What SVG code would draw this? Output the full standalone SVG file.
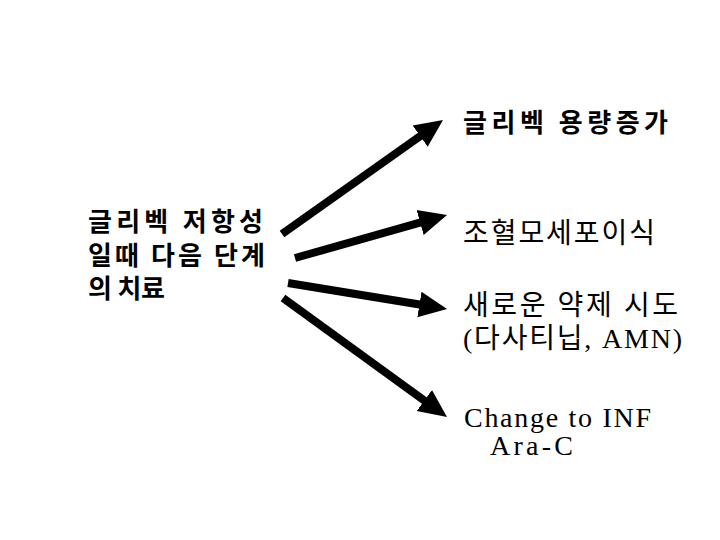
<svg xmlns="http://www.w3.org/2000/svg" width="720" height="540" viewBox="0 0 720 540">
<style>
.b{font-family:"Noto Sans CJK KR","Noto Sans",sans-serif;font-weight:bold;font-size:26px;fill:#000}
.r{font-family:"Liberation Serif","Noto Sans CJK KR",serif;font-size:28px;fill:#000}
.l{font-family:"Liberation Serif","Noto Sans CJK KR",serif;font-size:28px;fill:#000}
.c{stroke:#000;stroke-width:8;fill:none;marker-end:url(#ah)}
</style>
<defs>
<marker id="ah" markerUnits="userSpaceOnUse" markerWidth="30" markerHeight="30" viewBox="0 -15 30 30" refX="8" refY="0" orient="auto">
<path d="M0,-13 L28,0 L0,13 z" fill="#000"/>
</marker>
</defs>
<rect width="720" height="540" fill="#fff"/>
<g id="source">
<text class="b"><tspan x="88" y="231" textLength="175">글리벡 저항성</tspan><tspan x="88" y="265" textLength="177">일때 다음 단계</tspan><tspan x="88" y="298" textLength="77">의 치료</tspan></text>
</g>
<g id="connectors">
<line class="c" x1="282" y1="234" x2="426.7" y2="131.6"/>
<line class="c" x1="295" y1="258" x2="427.8" y2="220.4"/>
<line class="c" x1="288" y1="283" x2="427.3" y2="305.8"/>
<line class="c" x1="283" y1="298" x2="430.8" y2="405.3"/>
</g>
<g id="dose">
<text class="b" x="463" y="132" textLength="205">글리벡 용량증가</text>
</g>
<g id="transplant">
<text class="r" x="463" y="243" textLength="192">조혈모세포이식</text>
</g>
<g id="newdrug">
<text class="r" x="463" y="315" textLength="215">새로운 약제 시도</text>
<text class="r" x="463" y="348" textLength="219">(다사티닙, AMN)</text>
</g>
<g id="change">
<text class="l" x="464" y="427" textLength="187">Change to INF</text>
<text class="l" x="490" y="455" textLength="83">Ara-C</text>
</g>
</svg>
